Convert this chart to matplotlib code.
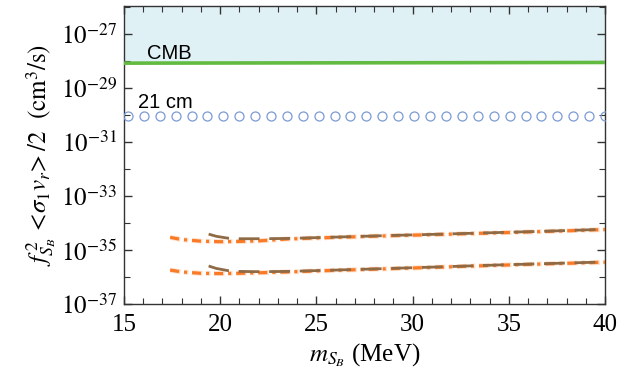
import numpy as np
import matplotlib
matplotlib.use('Agg')
import matplotlib.pyplot as plt
from matplotlib.ticker import FixedLocator, MultipleLocator, NullFormatter

plt.rcParams['font.family'] = 'Liberation Serif'
plt.rcParams['mathtext.fontset'] = 'stix'
plt.rcParams['lines.scale_dashes'] = False

# CMB bound (cm^3/s)
cmb_x = [15, 40]
cmb_y = [8.5e-29, 9.0e-29]

# 21 cm bound points
x_21cm = [15.20, 16.03, 16.85, 17.68, 18.51, 19.33, 20.16, 20.99, 21.81, 22.64,
          23.47, 24.29, 25.12, 25.95, 26.77, 27.60, 28.43, 29.25, 30.08, 30.91,
          31.73, 32.56, 33.39, 34.21, 35.04, 35.87, 36.69, 37.52, 38.35, 39.17, 40.00]
y_21cm = [9.3e-31] * len(x_21cm)

# orange dash-dot curves (log10 values)
orange_x = [17.4, 18.0, 19.0, 20.0, 21.0, 22.0, 23.5, 26.0, 28.8, 31.5, 34.5, 37.0, 40.0]
orange_hi = [-34.52, -34.60, -34.66, -34.68, -34.67, -34.65, -34.58, -34.52, -34.46, -34.41, -34.35, -34.30, -34.23]
orange_lo = [-35.73, -35.80, -35.85, -35.86, -35.85, -35.83, -35.80, -35.74, -35.68, -35.62, -35.55, -35.50, -35.44]

# brown long-dashed curves (log10 values)
brown_x = [19.4, 19.8, 20.4, 21.0, 22.0, 23.5, 26.0, 28.8, 31.5, 34.5, 37.0, 40.0]
brown_hi = [-34.40, -34.48, -34.55, -34.57, -34.57, -34.56, -34.51, -34.45, -34.40, -34.34, -34.29, -34.22]
brown_lo = [-35.58, -35.67, -35.75, -35.78, -35.79, -35.78, -35.73, -35.67, -35.61, -35.54, -35.49, -35.43]

fig = plt.figure(figsize=(6.44, 3.80), dpi=100)
ax = fig.add_axes([0.1925, 0.199, 0.747, 0.785])

ymax = 1.1e-26
ax.fill_between(cmb_x, cmb_y, [ymax, ymax], color='#e0f1f6', lw=0, zorder=1)
ax.plot(cmb_x, cmb_y, color='#62bb40', lw=2.6, zorder=3)

ax.plot(x_21cm, y_21cm, ls='none', marker='o', ms=6.5, mfc='none',
        mec='#7b9bd4', mew=0.9, zorder=3)

for ys in (orange_hi, orange_lo):
    ax.plot(orange_x, 10 ** np.array(ys), color='#ff8a3c', lw=3.6, alpha=0.25,
            dashes=(7.5, 2.6, 3.2, 2.6), zorder=2)
    ax.plot(orange_x, 10 ** np.array(ys), color='#fb7a26', lw=2.3,
            dashes=(6.5, 3.6, 2.2, 3.6), zorder=3)
for ys in (brown_hi, brown_lo):
    ax.plot(brown_x, 10 ** np.array(ys), color='#8e6a45', lw=2.0,
            dashes=(15, 7), zorder=4)

ax.text(16.2, 2.0e-28, 'CMB', family='Liberation Sans', fontsize=14.5, va='center')
ax.text(15.75, 2.9e-30, '21 cm', family='Liberation Sans', fontsize=14.5, va='center')

ax.set_yscale('log')
ax.set_xlim(15, 40)
ax.set_ylim(1e-37, ymax)

ax.xaxis.set_major_locator(MultipleLocator(5))
ax.xaxis.set_minor_locator(MultipleLocator(1))
ax.yaxis.set_major_locator(FixedLocator([10.0 ** k for k in (-37, -35, -33, -31, -29, -27)]))
ax.yaxis.set_minor_locator(FixedLocator([10.0 ** k for k in (-36, -34, -32, -30, -28, -26)]))
ax.yaxis.set_minor_formatter(NullFormatter())
ax.yaxis.set_major_formatter(plt.FuncFormatter(lambda v, p: r'$10^{%d}$' % round(np.log10(v))))

ax.tick_params(which='both', direction='in', top=True, right=True, colors='#333333',
               labelcolor='black', labelsize=18)
ax.tick_params(which='major', length=6, width=1.0)
ax.tick_params(which='minor', length=4, width=0.8)
ax.tick_params(axis='x', pad=7)
ax.tick_params(axis='y', pad=5)
for s in ax.spines.values():
    s.set_color('#333333')
    s.set_linewidth(1.0)

ax.set_xlabel(r'$m_{S_B}$ (MeV)', fontsize=18, labelpad=4)
ax.set_ylabel(r'$f^{\,2}_{S_B}\,<\!\sigma_1 v_r\!>/2\ \ (\mathrm{cm}^3/\mathrm{s})$', fontsize=18, labelpad=2)

fig.savefig('out.png', dpi=100)
